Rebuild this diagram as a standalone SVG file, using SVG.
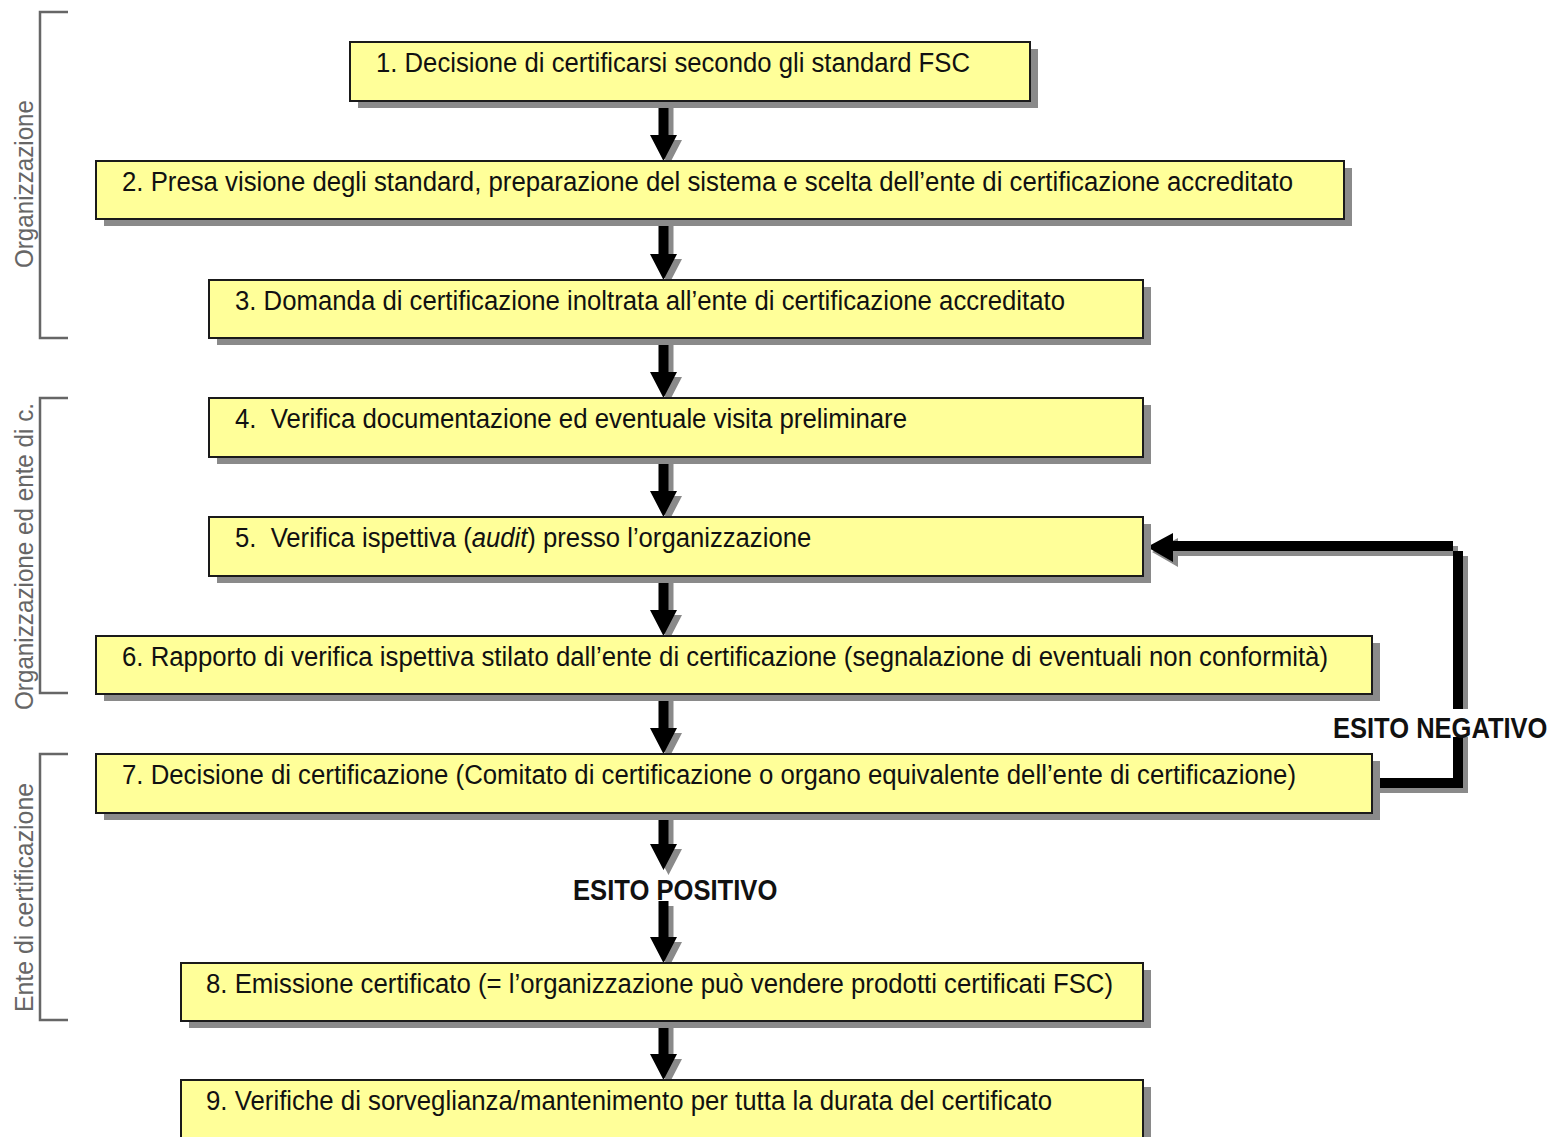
<svg xmlns="http://www.w3.org/2000/svg" width="1554" height="1137" viewBox="0 0 1554 1137">
<style>
.box{fill:#ffff99;stroke:#1a1a1a;stroke-width:2}
.shd{fill:#8a8a8a}
.t{font-family:"Liberation Sans Narrow","Liberation Sans",Arial,sans-serif;font-size:27px;fill:#111}
.lbl{font-family:"Liberation Sans Narrow","Liberation Sans",Arial,sans-serif;font-size:25px;fill:#666}
.esito{font-family:"Liberation Sans Narrow","Liberation Sans",Arial,sans-serif;font-size:29px;font-weight:bold;fill:#111}
.br{fill:none;stroke:#666;stroke-width:2.5}
.ar{fill:#000}
.as{fill:#8a8a8a}
</style>

<g id="brackets">
<g id="bracket-organizzazione">
<path class="br" d="M68,12 H40 V338 H68"/>
<text class="lbl" transform="translate(33,268) rotate(-90)" textLength="168" lengthAdjust="spacingAndGlyphs">Organizzazione</text>
</g>
<g id="bracket-org-ente">
<path class="br" d="M68,398 H40 V693 H68"/>
<text class="lbl" transform="translate(33,710) rotate(-90)" textLength="307" lengthAdjust="spacingAndGlyphs">Organizzazione ed ente di c.</text>
</g>
<g id="bracket-ente">
<path class="br" d="M68,754 H40 V1020 H68"/>
<text class="lbl" transform="translate(33,1012) rotate(-90)" textLength="229" lengthAdjust="spacingAndGlyphs">Ente di certificazione</text>
</g>
</g>

<g id="connectors">
<g id="a1"><path class="as" transform="translate(5,5)" d="M658.5,101 V135 H650 L663.5,161 L677,135 H668.5 V101 Z"/><path class="ar" d="M658.5,101 V135 H650 L663.5,161 L677,135 H668.5 V101 Z"/></g>
<g id="a2"><path class="as" transform="translate(5,5)" d="M658.5,219 V254 H650 L663.5,280 L677,254 H668.5 V219 Z"/><path class="ar" d="M658.5,219 V254 H650 L663.5,280 L677,254 H668.5 V219 Z"/></g>
<g id="a3"><path class="as" transform="translate(5,5)" d="M658.5,338 V372 H650 L663.5,398 L677,372 H668.5 V338 Z"/><path class="ar" d="M658.5,338 V372 H650 L663.5,398 L677,372 H668.5 V338 Z"/></g>
<g id="a4"><path class="as" transform="translate(5,5)" d="M658.5,457 V491 H650 L663.5,517 L677,491 H668.5 V457 Z"/><path class="ar" d="M658.5,457 V491 H650 L663.5,517 L677,491 H668.5 V457 Z"/></g>
<g id="a5"><path class="as" transform="translate(5,5)" d="M658.5,576 V610 H650 L663.5,636 L677,610 H668.5 V576 Z"/><path class="ar" d="M658.5,576 V610 H650 L663.5,636 L677,610 H668.5 V576 Z"/></g>
<g id="a6"><path class="as" transform="translate(5,5)" d="M658.5,694 V728 H650 L663.5,754 L677,728 H668.5 V694 Z"/><path class="ar" d="M658.5,694 V728 H650 L663.5,754 L677,728 H668.5 V694 Z"/></g>
<g id="a7"><path class="as" transform="translate(5,5)" d="M658.5,813 V844 H650 L663.5,870 L677,844 H668.5 V813 Z"/><path class="ar" d="M658.5,813 V844 H650 L663.5,870 L677,844 H668.5 V813 Z"/></g>
<g id="a8"><path class="as" transform="translate(5,5)" d="M658.5,901 V937 H650 L663.5,963 L677,937 H668.5 V901 Z"/><path class="ar" d="M658.5,901 V937 H650 L663.5,963 L677,937 H668.5 V901 Z"/></g>
<g id="a9"><path class="as" transform="translate(5,5)" d="M658.5,1021 V1054 H650 L663.5,1080 L677,1054 H668.5 V1021 Z"/><path class="ar" d="M658.5,1021 V1054 H650 L663.5,1080 L677,1054 H668.5 V1021 Z"/></g>
<g id="loop">
<path class="as" transform="translate(5,5)" d="M1372,778 H1453 V541 H1173 V533 L1147,547 L1173,562 V551 H1463 V788 H1372 Z"/>
<path class="ar" d="M1372,778 H1453 V541 H1173 V533 L1147,547 L1173,562 V551 H1463 V788 H1372 Z"/>
</g>
<rect x="1330" y="709" width="222" height="28" fill="#fff"/>
<text class="esito" transform="translate(1333,738) scale(0.88,1)">ESITO NEGATIVO</text>
<text class="esito" transform="translate(573,900) scale(0.883,1)">ESITO POSITIVO</text>
</g>

<g id="n1"><rect class="shd" x="358" y="49" width="680" height="59"/><rect class="box" x="350" y="42" width="680" height="59"/><text class="t" x="376" y="72" textLength="594" lengthAdjust="spacingAndGlyphs">1. Decisione di certificarsi secondo gli standard FSC</text></g>
<g id="n2"><rect class="shd" x="104" y="168" width="1248" height="58"/><rect class="box" x="96" y="161" width="1248" height="58"/><text class="t" x="122" y="191" textLength="1171" lengthAdjust="spacingAndGlyphs">2. Presa visione degli standard, preparazione del sistema e scelta dell’ente di certificazione accreditato</text></g>
<g id="n3"><rect class="shd" x="217" y="287" width="934" height="58"/><rect class="box" x="209" y="280" width="934" height="58"/><text class="t" x="235" y="310" textLength="830" lengthAdjust="spacingAndGlyphs">3. Domanda di certificazione inoltrata all’ente di certificazione accreditato</text></g>
<g id="n4"><rect class="shd" x="217" y="405" width="934" height="59"/><rect class="box" x="209" y="398" width="934" height="59"/><text class="t" x="235" y="428" textLength="672" lengthAdjust="spacingAndGlyphs">4.&#160; Verifica documentazione ed eventuale visita preliminare</text></g>
<g id="n5"><rect class="shd" x="217" y="524" width="934" height="59"/><rect class="box" x="209" y="517" width="934" height="59"/>
<text class="t" transform="translate(235,547) scale(0.951,1)">5.&#160; Verifica ispettiva (<tspan font-style="italic">audit</tspan>) presso l’organizzazione</text></g>
<g id="n6"><rect class="shd" x="104" y="643" width="1276" height="58"/><rect class="box" x="96" y="636" width="1276" height="58"/><text class="t" x="122" y="666" textLength="1206" lengthAdjust="spacingAndGlyphs">6. Rapporto di verifica ispettiva stilato dall’ente di certificazione (segnalazione di eventuali non conformità)</text></g>
<g id="n7"><rect class="shd" x="104" y="761" width="1276" height="59"/><rect class="box" x="96" y="754" width="1276" height="59"/><text class="t" x="122" y="784" textLength="1174" lengthAdjust="spacingAndGlyphs">7. Decisione di certificazione (Comitato di certificazione o organo equivalente dell’ente di certificazione)</text></g>
<g id="n8"><rect class="shd" x="189" y="970" width="962" height="58"/><rect class="box" x="181" y="963" width="962" height="58"/><text class="t" x="206" y="993" textLength="907" lengthAdjust="spacingAndGlyphs">8. Emissione certificato (= l’organizzazione può vendere prodotti certificati FSC)</text></g>
<g id="n9"><rect class="shd" x="189" y="1087" width="962" height="60"/><rect class="box" x="181" y="1080" width="962" height="60"/><text class="t" x="206" y="1110" textLength="846" lengthAdjust="spacingAndGlyphs">9. Verifiche di sorveglianza/mantenimento per tutta la durata del certificato</text></g>
</svg>
